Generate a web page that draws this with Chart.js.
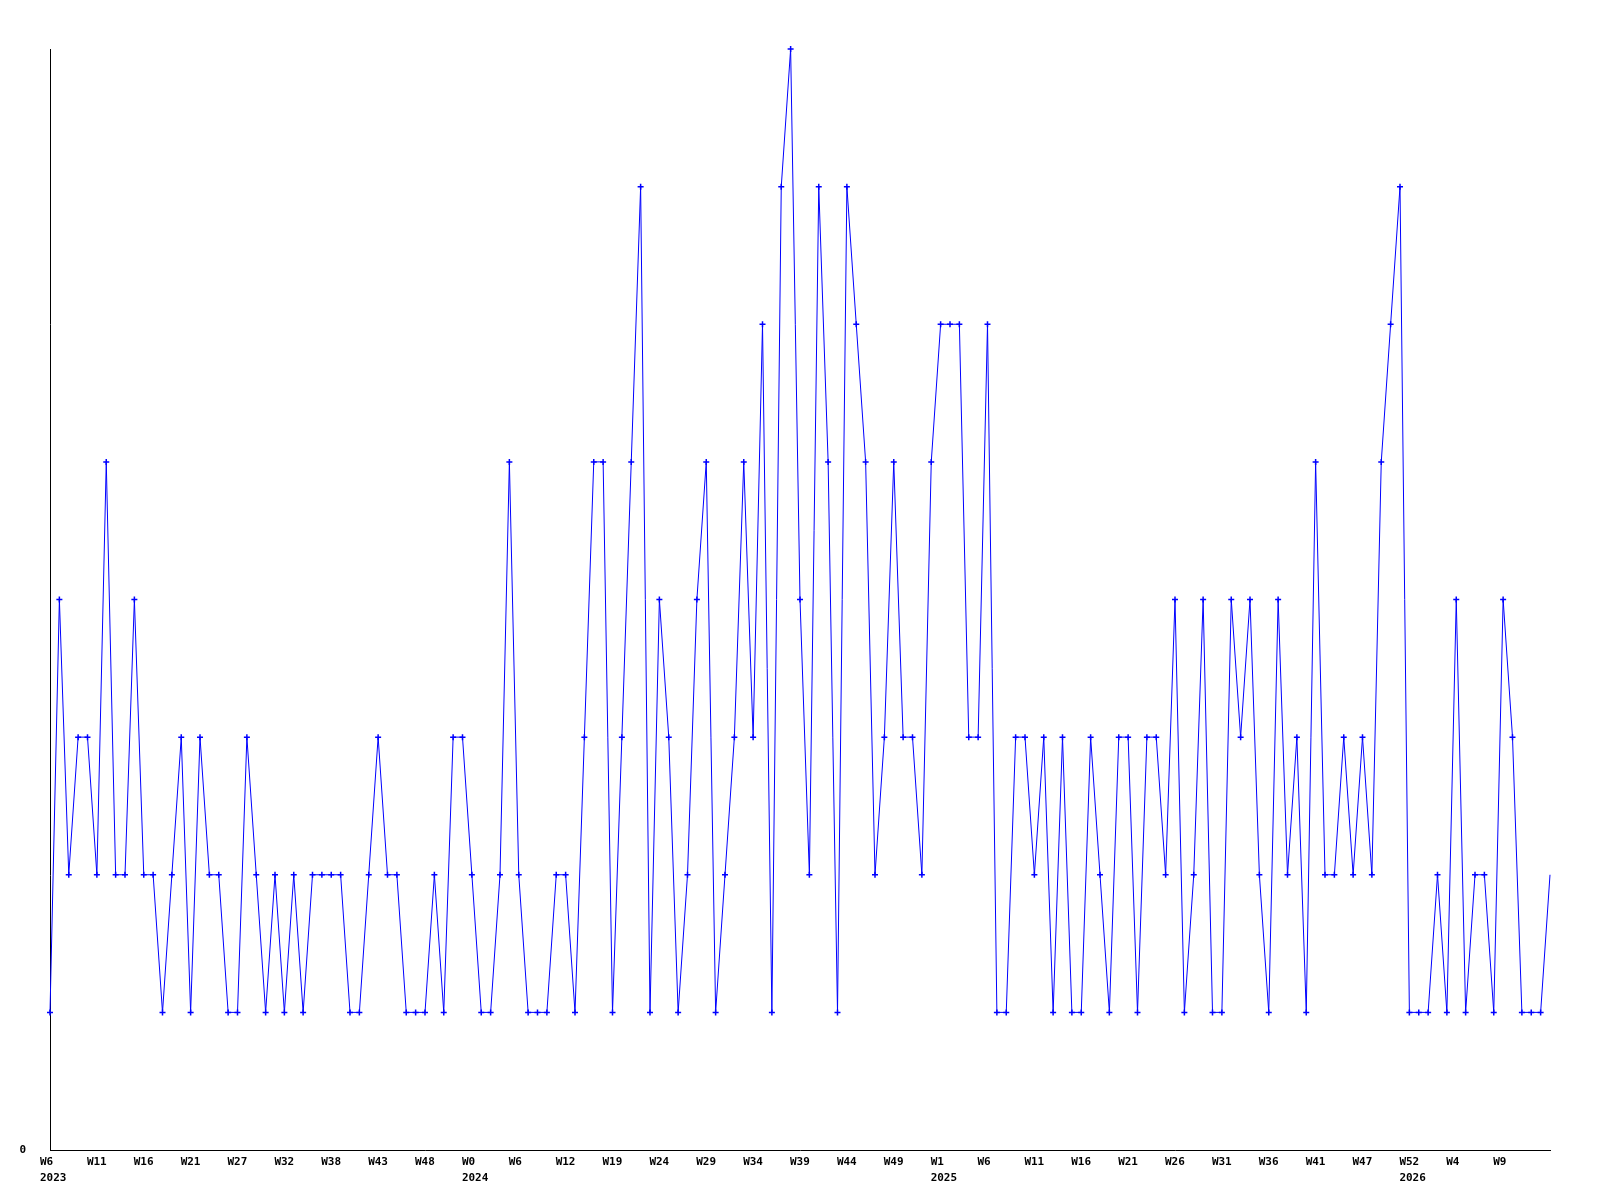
<!DOCTYPE html>
<html>
<head>
<meta charset="utf-8">
<script src="https://cdn.jsdelivr.net/npm/chart.js@4/dist/chart.umd.min.js"></script>
<style>
  html, body { margin: 0; padding: 0; background: #fff; }
  #wrap { width: 1600px; height: 1200px; }
</style>
</head>
<body>
<div id="wrap"><canvas id="myChart" width="1600" height="1200"></canvas></div>
<script>
// weekly counts, one per week, oldest first (last week has no marker)
let weekValues = [
    1, 4, 2, 3, 3, 2, 5, 2, 2, 4,
    2, 2, 1, 2, 3, 1, 3, 2, 2, 1,
    1, 3, 2, 1, 2, 1, 2, 1, 2, 2,
    2, 2, 1, 1, 2, 3, 2, 2, 1, 1,
    1, 2, 1, 3, 3, 2, 1, 1, 2, 5,
    2, 1, 1, 1, 2, 2, 1, 3, 5, 5,
    1, 3, 5, 7, 1, 4, 3, 1, 2, 4,
    5, 1, 2, 3, 5, 3, 6, 1, 7, 8,
    4, 2, 7, 5, 1, 7, 6, 5, 2, 3,
    5, 3, 3, 2, 5, 6, 6, 6, 3, 3,
    6, 1, 1, 3, 3, 2, 3, 1, 3, 1,
    1, 3, 2, 1, 3, 3, 1, 3, 3, 2,
    4, 1, 2, 4, 1, 1, 4, 3, 4, 2,
    1, 4, 2, 3, 1, 5, 2, 2, 3, 2,
    3, 2, 5, 6, 7, 1, 1, 1, 2, 1,
    4, 1, 2, 2, 1, 4, 3, 1, 1, 1,
    2
];

// a tick label every 5th week
let tickLabels = [
    'W6', 'W11', 'W16', 'W21', 'W27', 'W32', 'W38', 'W43', 'W48', 'W0',
    'W6', 'W12', 'W19', 'W24', 'W29', 'W34', 'W39', 'W44', 'W49', 'W1',
    'W6', 'W11', 'W16', 'W21', 'W26', 'W31', 'W36', 'W41', 'W47', 'W52',
    'W4', 'W9'
];
let yearLabels = [
    '2023', '', '', '', '', '', '', '', '', '2024',
    '', '', '', '', '', '', '', '', '', '2025',
    '', '', '', '', '', '', '', '', '', '2026',
    '', ''
];
let tickEvery = 5;

let weeks = weekValues.map((v, i) => i);

const font = { family: 'DejaVu Sans Mono', size: 11, weight: 'bold', lineHeight: '16px' };

const myChart = new Chart(document.getElementById('myChart').getContext('2d'), {
    type: 'line',
    data: {
        labels: weeks,
        datasets: [{
            data: weekValues,
            borderColor: '#0000ff',
            backgroundColor: '#0000ff',
            borderWidth: 1,
            tension: 0,
            pointStyle: 'cross',
            pointRadius: weekValues.map((v, i) => i === weekValues.length - 1 ? 0 : 3),
            pointBorderWidth: 1.5,
            pointBorderColor: '#0000ff',
            clip: false
        }]
    },
    options: {
        responsive: false,
        animation: false,
        layout: { padding: { left: 0, top: 49, right: 50, bottom: 0 } },
        plugins: { legend: { display: false }, tooltip: { enabled: false } },
        scales: {
            x: {
                offset: false,
                grid: { display: false, drawTicks: false },
                border: { display: true, color: '#000', width: 1 },
                ticks: {
                    autoSkip: false,
                    maxRotation: 0,
                    minRotation: 0,
                    align: 'start',
                    labelOffset: -10,
                    padding: 4,
                    color: '#000',
                    font: font,
                    callback: function (val, idx) {
                        if (idx % tickEvery !== 0) return '';
                        let k = idx / tickEvery;
                        return yearLabels[k] ? [tickLabels[k], yearLabels[k]] : tickLabels[k];
                    }
                },
                afterFit: function (scale) { scale.height = 50; }
            },
            y: {
                min: 0,
                max: 8,
                grid: { display: false, drawTicks: false },
                border: { display: true, color: '#000', width: 1 },
                ticks: {
                    stepSize: 8,
                    padding: 24,
                    color: '#000',
                    font: font,
                    callback: function (val) { return val === 0 ? '0' : ''; }
                },
                afterFit: function (scale) { scale.width = 50; }
            }
        }
    }
});
</script>
</body>
</html>
